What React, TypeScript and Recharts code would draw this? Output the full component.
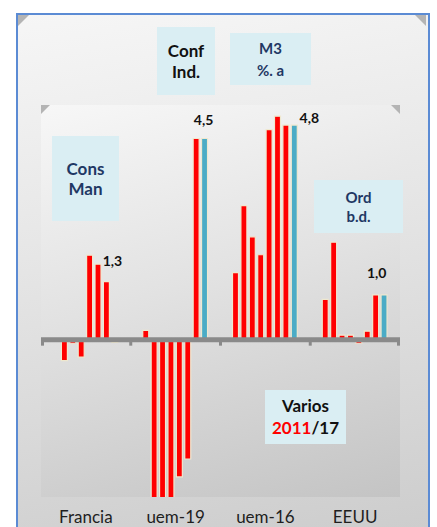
import { BarChart, Bar, XAxis, YAxis, ReferenceLine, LabelList } from 'recharts';

const categories = ['Francia', 'uem-19', 'uem-16', 'EEUU'];

// 8 bars per country, last one is the cyan M3 bar
const francia = [null, -0.47, -0.08, -0.39, 1.89, 1.69, 1.3, -0.06];
const uem19 = [0.21, -3.8, -3.8, -3.8, -3.07, -2.67, 4.5, 4.5];
const uem16 = [1.5, 3.0, 2.3, 1.9, 4.7, 5.0, 4.8, 4.8];
const eeuu = [0.9, 2.18, 0.1, 0.1, -0.08, 0.19, 1.0, 1.0];

const seriesKeys = ['s1', 's2', 's3', 's4', 's5', 's6', 's7', 's8'];
const seriesColors = ['#ff0000', '#ff0000', '#ff0000', '#ff0000', '#ff0000', '#ff0000', '#ff0000', '#4bacc6'];

// which bar carries the value label in each country, and where it sits
const labelBar = [6, 7, 7, 6];
const labelShift = [
  [6, -20],
  [-1, -18],
  [15, -7],
  [1, -22],
];

const rows = [francia, uem19, uem16, eeuu];
const data = categories.map((name, c) => {
  const row: any = { name };
  seriesKeys.forEach((k, i) => {
    row[k] = rows[c][i];
  });
  return row;
});

const font = 'Lato, "Open Sans", sans-serif';

const CategoryTick = ({ x, y, payload }: any) => (
  <text x={x} y={y} dy={26} textAnchor="middle" fontSize={17} fill="#1e1e1e" fontFamily={font}>
    {payload.value}
  </text>
);

const ZeroAxis = ({ x1, y1, x2 }: any) => {
  const ticks = [0, 1, 2, 3, 4].map(i => x1 + (i * (x2 - x1)) / 4);
  return (
    <g>
      <line x1={x1} y1={y1} x2={x2} y2={y1} stroke="#8a8a8a" strokeWidth={5} />
      {ticks.map((t, i) => (
        <rect key={i} x={Math.min(Math.max(t - 1.5, x1), x2 - 3)} y={y1 + 1} width={3} height={5} fill="#8a8a8a" />
      ))}
    </g>
  );
};

const fmt = (v: number) => v.toFixed(1).replace('.', ',');

const valueLabel = (props: any, series: number) => {
  const { x, y, width, value, index } = props;
  if (labelBar[index] !== series) return null;
  const [dx, dy] = labelShift[index];
  return (
    <text
      x={x + width / 2 + dx}
      y={y + dy}
      dy="0.35em"
      textAnchor="middle"
      fontSize={14}
      fontWeight="bold"
      fill="#111"
      fontFamily={font}
    >
      {fmt(Number(value))}
    </text>
  );
};

const Box = ({ left, top, width, height, size, color, lineHeight, children }: any) => (
  <div
    style={{
      position: 'absolute',
      left,
      top,
      width,
      height,
      background: '#daeef3',
      color,
      fontFamily: font,
      fontWeight: 'bold',
      fontSize: size,
      lineHeight: `${lineHeight}px`,
      display: 'flex',
      flexDirection: 'column',
      alignItems: 'center',
      justifyContent: 'center',
      textAlign: 'center',
    }}
  >
    {children}
  </div>
);

const Corner = ({ left, top, size, flip }: any) => (
  <svg style={{ position: 'absolute', left, top }} width={size} height={size}>
    <polygon
      points={flip ? `0,0 ${size},0 ${size},${size}` : `0,0 ${size},0 0,${size}`}
      fill="#b4b4b4"
    />
  </svg>
);

export default function App() {
  return (
    <div style={{ position: 'absolute', left: 0, top: 0, width: 437, height: 527, overflow: 'hidden', background: '#fff' }}>
      <div
        style={{
          position: 'absolute',
          left: 16,
          top: 13,
          width: 410,
          height: 540,
          borderLeft: '2px solid #5b8bd4',
          borderRight: '2px solid #5b8bd4',
          borderTop: '2px solid #5b8bd4',
          background: 'linear-gradient(170deg, #f6f6f6 0%, #e6e6e6 40%, #cbcbcb 100%)',
        }}
      />
      <Corner left={18} top={15} size={11} />
      <Corner left={415} top={15} size={11} flip />
      <div
        style={{
          position: 'absolute',
          left: 41,
          top: 105,
          width: 359,
          height: 392,
          background: 'linear-gradient(165deg, #f7f7f7 0%, #e2e2e2 45%, #c4c4c4 100%)',
        }}
      />
      <Corner left={41} top={105} size={9} />
      <Corner left={391} top={105} size={9} flip />

      <div style={{ position: 'absolute', left: 0, top: 0 }}>
        <BarChart
          width={437}
          height={527}
          data={data}
          margin={{ top: 105, right: 37, bottom: 0, left: 41 }}
          barSize={6}
          barGap={2.4}
        >
          <XAxis
            dataKey="name"
            axisLine={false}
            tickLine={false}
            tickSize={0}
            tickMargin={0}
            height={30}
            interval={0}
            tick={<CategoryTick />}
          />
          <YAxis hide domain={[-3.52, 5.25]} allowDataOverflow />
          {seriesKeys.map((k, i) => (
            <Bar
              key={k}
              dataKey={k}
              fill={seriesColors[i]}
              stroke="#efe8cf"
              strokeWidth={1.2}
              isAnimationActive={false}
            >
              <LabelList dataKey={k} content={(p: any) => valueLabel(p, i)} />
            </Bar>
          ))}
          <ReferenceLine y={0} shape={<ZeroAxis />} />
        </BarChart>
      </div>

      <Box left={157} top={27} width={58} height={68} size={17} color="#111" lineHeight={21}>
        <span>Conf</span>
        <span>Ind.</span>
      </Box>
      <Box left={230} top={33} width={81} height={52} size={15} color="#1f3864" lineHeight={22}>
        <span>M3</span>
        <span>%. a</span>
      </Box>
      <Box left={52} top={136} width={67} height={85} size={17} color="#1f3864" lineHeight={20}>
        <span>Cons</span>
        <span>Man</span>
      </Box>
      <Box left={314} top={180} width={89} height={53} size={15} color="#1f3864" lineHeight={19}>
        <span>Ord</span>
        <span>b.d.</span>
      </Box>
      <Box left={265} top={390} width={81} height={54} size={17} color="#111" lineHeight={22}>
        <span>Varios</span>
        <span>
          <span style={{ color: '#ff0000' }}>2011</span>/17
        </span>
      </Box>
    </div>
  );
}
